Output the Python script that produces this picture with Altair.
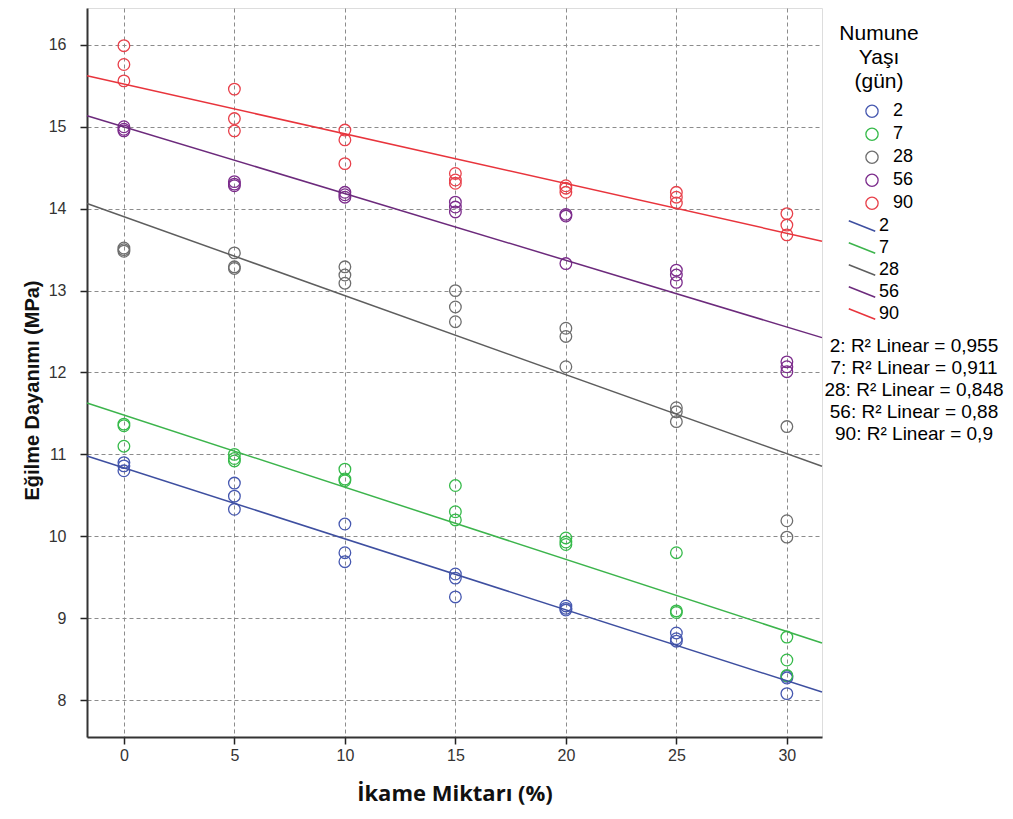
import altair as alt
import pandas as pd

# ---- data ----
x_levels = [0, 5, 10, 15, 20, 25, 30]
ages = ["2", "7", "28", "56", "90"]
age_nums = [2, 7, 28, 56, 90]

s2 = [[10.90, 10.86, 10.80], [10.65, 10.49, 10.33], [10.15, 9.80, 9.69], [9.54, 9.49, 9.26],
      [9.15, 9.12, 9.10], [8.82, 8.75, 8.72], [8.29, 8.27, 8.08]]
s7 = [[11.37, 11.35, 11.10], [11.00, 10.95, 10.92], [10.82, 10.70, 10.68], [10.62, 10.30, 10.20],
      [9.98, 9.93, 9.90], [9.80, 9.09, 9.07], [8.77, 8.49, 8.30]]
s28 = [[13.52, 13.50, 13.48], [13.46, 13.29, 13.27], [13.29, 13.19, 13.09], [13.00, 12.80, 12.62],
       [12.54, 12.44, 12.07], [11.57, 11.52, 11.40], [11.34, 10.19, 9.99]]
s56 = [[15.00, 14.97, 14.95], [14.33, 14.30, 14.28], [14.20, 14.17, 14.14], [14.08, 14.02, 13.96],
       [13.93, 13.91, 13.33], [13.25, 13.19, 13.10], [12.13, 12.07, 12.01]]
s90 = [[15.99, 15.76, 15.56], [15.46, 15.10, 14.95], [14.96, 14.84, 14.55], [14.43, 14.35, 14.31],
       [14.28, 14.25, 14.20], [14.20, 14.14, 14.07], [13.94, 13.80, 13.68]]
series = [s2, s7, s28, s56, s90]

r2_labels = ["2: R² Linear = 0,955", "7: R² Linear = 0,911", "28: R² Linear = 0,848",
             "56: R² Linear = 0,88", "90: R² Linear = 0,9"]

x_ticks = [0, 5, 10, 15, 20, 25, 30]
y_ticks = [8, 9, 10, 11, 12, 13, 14, 15, 16]

# ---- styles ----
pt_colors = ["#4658B0", "#36BA4A", "#6E6E6E", "#7C2C8C", "#E8404A"]
ln_colors = ["#3E4FA0", "#3CB44C", "#5E5E5E", "#6C2A7C", "#E8343C"]
x_dom = [-1.67, 31.59]
y_dom = [7.55, 16.45]

rows = []
for age, an, s in zip(ages, age_nums, series):
    for xv, ys in zip(x_levels, s):
        for yv in ys:
            rows.append({"x": xv, "y": yv, "age": age, "agenum": an})
df = pd.DataFrame(rows)
df_r2 = pd.DataFrame({"label": r2_labels})

xs = alt.Scale(domain=x_dom, nice=False, zero=False)
ys_ = alt.Scale(domain=y_dom, nice=False, zero=False)

x_axis = alt.Axis(values=x_ticks, title="İkame Miktarı (%)", grid=True, gridDash=[4, 3],
                  gridColor="#8C8C8C", gridWidth=1, tickSize=7, tickColor="#222",
                  tickWidth=1.5, domainColor="#333", domainWidth=2, labelFont="Liberation Sans",
                  labelFontSize=16, labelColor="#333", labelPadding=3,
                  titleFont="Open Sans", titleFontSize=22, titleFontWeight="bold",
                  titleColor="#111", titlePadding=20)
y_axis = alt.Axis(values=y_ticks, format="d", title="Eğilme Dayanımı (MPa)", grid=True,
                  gridDash=[4, 3], gridColor="#8C8C8C", gridWidth=1, tickSize=7,
                  tickColor="#222", tickWidth=1.5, domainColor="#333", domainWidth=2,
                  labelFont="Liberation Sans", labelFontSize=16, labelColor="#333",
                  labelPadding=14, titleFont="Liberation Sans", titleFontSize=20,
                  titleFontWeight="bold", titleColor="#111", titlePadding=6, titleY=382)

points = alt.Chart(df).mark_point(filled=False, size=135, strokeWidth=1.3, opacity=1).encode(
    x=alt.X("x:Q", scale=xs, axis=x_axis),
    y=alt.Y("y:Q", scale=ys_, axis=y_axis),
    color=alt.Color("age:N", scale=alt.Scale(domain=ages, range=pt_colors),
                    legend=alt.Legend(title=["Numune", "Yaşı", "(gün)"], orient="none",
                                      legendX=752, legendY=15, titleAnchor="middle",
                                      titleAlign="center", titleLineHeight=24,
                                      titleFontWeight="normal", titleFontSize=21,
                                      titlePadding=8, symbolOffset=19, symbolSize=150,
                                      symbolStrokeWidth=1.3, rowPadding=0, clipHeight=22.5,
                                      labelOffset=12, labelFontSize=18)),
)

lines = alt.Chart(df).transform_regression(
    "x", "y", groupby=["age", "agenum"], extent=x_dom
).mark_line(strokeWidth=1.5).encode(
    x=alt.X("x:Q", scale=xs),
    y=alt.Y("y:Q", scale=ys_),
    stroke=alt.Stroke("agenum:O", scale=alt.Scale(domain=age_nums, range=ln_colors),
                      legend=alt.Legend(title=None, orient="none", legendX=761, legendY=207,
                                        symbolType="M-1,-0.4L1,0.4", symbolSize=700,
                                        symbolStrokeWidth=1.5, rowPadding=0, clipHeight=22,
                                        labelOffset=3, labelFontSize=18)),
)

r2 = alt.Chart(df_r2).mark_point(opacity=0).encode(
    shape=alt.Shape("label:N", scale=alt.Scale(domain=r2_labels),
                    legend=alt.Legend(title=None, orient="none", legendX=808, legendY=327,
                                      symbolOpacity=0, symbolSize=1, rowPadding=0,
                                      clipHeight=21.7, labelOffset=0, labelAlign="center",
                                      labelLimit=400, labelFontSize=19)),
)

chart = alt.layer(points, lines, r2).properties(
    width=735, height=729, padding={"left": 22, "top": 8, "right": 0, "bottom": 8}
).configure_view(
    fill="#F0F0F0", stroke="#444", strokeWidth=1.5
).configure_legend(
    labelFont="Liberation Sans", labelColor="#222",
    titleFont="Liberation Sans", titleColor="#222"
).configure(background="white")

chart.save("out.html", embed_options={"renderer": "svg", "actions": False})
